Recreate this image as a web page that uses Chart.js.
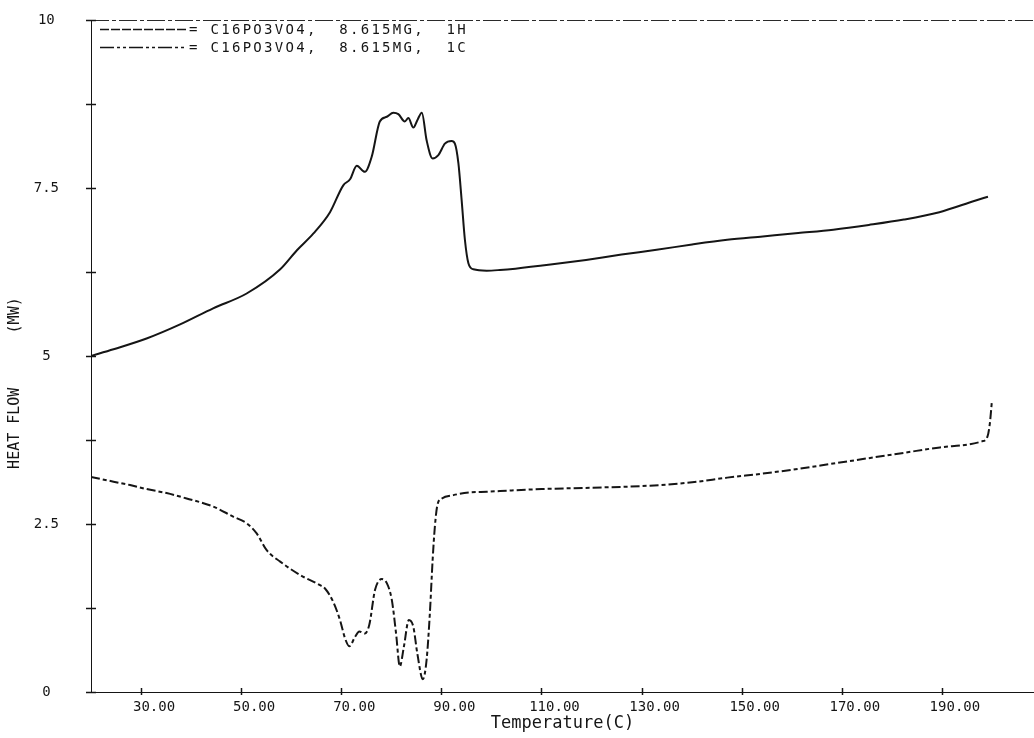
<!DOCTYPE html>
<html><head><meta charset="utf-8">
<script src="https://cdn.jsdelivr.net/npm/chart.js@4.4.1/dist/chart.umd.min.js"></script>
<style>html,body{margin:0;padding:0;background:#fff;}#wrap{width:1034px;height:738px;}</style>
</head><body><div id="wrap"><canvas id="c" width="1034" height="738"></canvas></div>
<script>
// ---- data ----
const heatTemps = [20, 24.5, 31.1, 37.8, 44.4, 51.1, 57.8, 61.1, 64.4, 67.75, 70.4, 71.75, 73.1, 74.7, 76.1, 77.7, 79.1, 80.4, 81.4, 82.7, 83.4, 84.4, 85.2, 86.1, 87.05, 88.25, 89.4, 90.7, 92.05, 92.7, 93.4, 94.05, 94.7, 95.4, 96.4, 99.05, 101.7, 104.8, 111.8, 118.9, 126.0, 133.0, 140.1, 147.1, 154.2, 161.3, 168.3, 175.4, 182.4, 189.5, 196.6, 199.2];
const heatFlow  = [5.00, 5.10, 5.26, 5.47, 5.71, 5.93, 6.29, 6.57, 6.82, 7.14, 7.54, 7.63, 7.83, 7.74, 7.97, 8.49, 8.56, 8.62, 8.60, 8.49, 8.54, 8.40, 8.51, 8.62, 8.21, 7.94, 7.99, 8.16, 8.20, 8.16, 7.87, 7.32, 6.73, 6.38, 6.29, 6.27, 6.28, 6.30, 6.36, 6.43, 6.51, 6.58, 6.66, 6.73, 6.78, 6.83, 6.88, 6.95, 7.03, 7.14, 7.31, 7.37];
const coolTemps = [20, 24.5, 27.8, 31.1, 35.1, 39.1, 44.4, 48.4, 51.1, 53.1, 55.1, 57.8, 61.8, 65.75, 66.75, 68.4, 69.75, 70.75, 71.6, 72.75, 73.6, 74.7, 75.6, 76.75, 78.1, 79.1, 80.1, 80.95, 81.7, 82.5, 83.5, 84.4, 85.2, 86.3, 87.05, 87.7, 88.25, 88.7, 89.2, 90.1, 92.4, 95.7, 99.1, 101.7, 110, 120, 131.6, 140.1, 147.1, 154.2, 161.3, 168.3, 175.4, 182.5, 189.6, 198.0, 199.1, 199.6, 200.0];
const coolFlow  = [3.20, 3.13, 3.08, 3.02, 2.96, 2.88, 2.76, 2.61, 2.51, 2.36, 2.11, 1.94, 1.74, 1.59, 1.54, 1.34, 1.07, 0.80, 0.68, 0.82, 0.90, 0.87, 1.00, 1.52, 1.68, 1.62, 1.37, 0.87, 0.38, 0.67, 1.07, 0.97, 0.57, 0.19, 0.48, 1.17, 1.96, 2.46, 2.78, 2.88, 2.93, 2.97, 2.98, 2.99, 3.02, 3.04, 3.07, 3.12, 3.19, 3.25, 3.32, 3.40, 3.48, 3.56, 3.64, 3.73, 3.80, 4.01, 4.34];
const xTickValues = [30, 50, 70, 90, 110, 130, 150, 170, 190];
const yTickValues = [0, 1.25, 2.5, 3.75, 5, 6.25, 7.5, 8.75, 10];
const yTickLabels = {0: '0', 2.5: '2.5', 5: '5', 7.5: '7.5', 10: '10'};
const seriesLabels = ['C16PO3VO4,  8.615MG,  1H', 'C16PO3VO4,  8.615MG,  1C'];
const xTitle = 'Temperature(C)';
const yTitle = 'HEAT FLOW      (MW)      ';

const INK = '#151515';
const MONO = '"DejaVu Sans Mono", "Liberation Mono", monospace';
const legendDash = [[9, 2], [14, 3, 3, 3, 3, 3]];

const toPts = (xs, ys) => xs.map((v, i) => ({x: v, y: ys[i]}));

const decor = {
  id: 'decor',
  afterDraw(chart) {
    const {ctx, chartArea: a, scales: {x, y}} = chart;
    ctx.save();
    ctx.strokeStyle = '#2a2a2a';
    ctx.lineWidth = 1;
    ctx.setLineDash([18, 3, 4, 3]);
    ctx.beginPath(); ctx.moveTo(a.left, a.top + 0.5); ctx.lineTo(a.right, a.top + 0.5); ctx.stroke();
    ctx.setLineDash([]);
    ctx.strokeStyle = INK;
    ctx.lineWidth = 1.5;
    yTickValues.forEach(v => {
      const py = Math.round(y.getPixelForValue(v)) + 0.5;
      ctx.beginPath(); ctx.moveTo(a.left - 5, py); ctx.lineTo(a.left + 5, py); ctx.stroke();
    });
    xTickValues.forEach(v => {
      const px = Math.round(x.getPixelForValue(v)) + 0.5;
      ctx.beginPath(); ctx.moveTo(px, a.bottom - 4); ctx.lineTo(px, a.bottom + 3); ctx.stroke();
    });
    // legend
    ctx.font = '14px ' + MONO;
    ctx.fillStyle = INK;
    ctx.textBaseline = 'middle';
    try { ctx.letterSpacing = '2.3px'; } catch (e) {}
    chart.data.datasets.forEach((ds, i) => {
      const ly = a.top + 9 + i * 18;
      ctx.lineWidth = 1.5;
      ctx.setLineDash(legendDash[i]);
      ctx.beginPath(); ctx.moveTo(a.left + 9, ly + 0.5); ctx.lineTo(a.left + 96, ly + 0.5); ctx.stroke();
      ctx.setLineDash([]);
      ctx.fillText('= ' + ds.label, a.left + 98, ly + 1);
    });
    ctx.restore();
  }
};

new Chart(document.getElementById('c'), {
  type: 'line',
  data: {
    datasets: [
      {label: seriesLabels[0], data: toPts(heatTemps, heatFlow), borderColor: INK, borderWidth: 2, pointRadius: 0, cubicInterpolationMode: 'monotone', fill: false},
      {label: seriesLabels[1], data: toPts(coolTemps, coolFlow), borderColor: INK, borderWidth: 2, borderDash: [9, 3, 4, 3], pointRadius: 0, cubicInterpolationMode: 'monotone', fill: false}
    ]
  },
  options: {
    responsive: false,
    animation: false,
    devicePixelRatio: 1,
    layout: {padding: {top: 20, right: 0, bottom: 0, left: 0}},
    plugins: {legend: {display: false}, tooltip: {enabled: false}},
    scales: {
      x: {
        type: 'linear', min: 20, max: 208.4,
        afterBuildTicks: s => { s.ticks = xTickValues.map(v => ({value: v})); },
        afterFit: s => { s.height = 46; s.paddingLeft = 0; s.paddingRight = 0; },
        grid: {display: false, drawTicks: false},
        border: {display: true, color: INK, width: 1},
        ticks: {color: INK, font: {family: MONO, size: 14}, padding: 7, labelOffset: 13, maxRotation: 0, autoSkip: false,
                callback: v => Number(v).toFixed(2)},
        title: {display: true, text: xTitle, color: INK, font: {family: MONO, size: 17}, padding: {top: 0, bottom: 4}}
      },
      y: {
        type: 'linear', min: 0, max: 10,
        afterBuildTicks: s => { s.ticks = yTickValues.map(v => ({value: v})); },
        afterFit: s => { s.width = 91; s.paddingTop = 0; s.paddingBottom = 0; },
        grid: {display: false, drawTicks: false},
        border: {display: true, color: INK, width: 1},
        ticks: {color: INK, font: {family: MONO, size: 14}, padding: 32, crossAlign: 'center', autoSkip: false,
                callback: v => (yTickLabels[v] !== undefined ? yTickLabels[v] : '')},
        title: {display: true, text: yTitle, color: INK, font: {family: MONO, size: 15}, padding: {top: 6, bottom: 0}}
      }
    }
  },
  plugins: [decor]
});
</script>
</body></html>
